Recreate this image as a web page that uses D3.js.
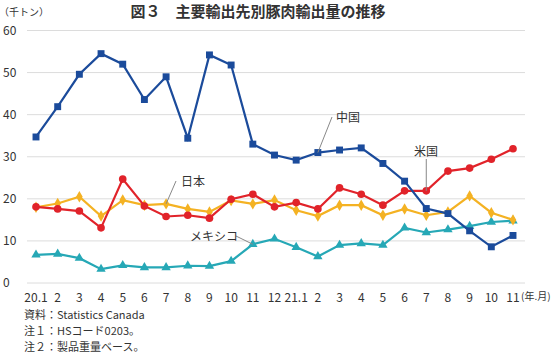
<!DOCTYPE html>
<html>
<head>
<meta charset="utf-8">
<script src="https://cdn.jsdelivr.net/npm/d3@7"></script>
<style>
  body { margin: 0; background: #fff; }
  text { font-family: "Noto Sans CJK JP", "Liberation Sans", sans-serif; }
</style>
</head>
<body>
<div id="drawing_region"></div>
<script>
// month labels (年.月)
const months = ["20.1","2","3","4","5","6","7","8","9","10","11","12",
                "21.1","2","3","4","5","6","7","8","9","10","11"];
const yTicks = [0, 10, 20, 30, 40, 50, 60];

// 千トン
const china  = [34.7, 41.9, 49.6, 54.5, 52.0, 43.6, 49.0, 34.4, 54.2, 51.8, 33.0, 30.4,
                29.2, 31.0, 31.6, 32.1, 28.4, 24.2, 17.7, 16.5, 12.4, 8.6, 11.3];
const usa    = [18.1, 17.6, 17.1, 13.1, 24.7, 18.3, 15.8, 16.1, 15.4, 19.9, 21.1, 18.1,
                19.1, 17.6, 22.6, 21.1, 18.5, 21.9, 21.9, 26.6, 27.3, 29.4, 31.9];
const japan  = [18.0, 18.9, 20.5, 15.9, 19.7, 18.5, 18.8, 17.6, 16.9, 19.6, 18.8, 19.7,
                17.3, 15.9, 18.5, 18.5, 16.1, 17.6, 16.1, 16.9, 20.7, 16.7, 15.0];
const mexico = [6.7, 6.9, 5.9, 3.3, 4.2, 3.7, 3.7, 4.1, 4.0, 5.2, 9.2, 10.5,
                8.5, 6.3, 9.0, 9.4, 9.0, 13.1, 12.0, 12.7, 13.5, 14.5, 14.8];

const series = [
  { name: "メキシコ", values: mexico, color: "#26a8b6", shape: d3.symbolTriangle, size: 38 },
  { name: "日本", values: japan, color: "#f4b223", shape: d3.symbolDiamond, size: 38 },
  { name: "米国", values: usa, color: "#e1232a", shape: d3.symbolCircle, size: 46 },
  { name: "中国", values: china, color: "#1b4b9b", shape: d3.symbolSquare, size: 48 }
];

const width = 558, height = 353;
const svg = d3.select("#drawing_region").append("svg")
  .attr("width", width).attr("height", height)
  .attr("viewBox", `0 0 ${width} ${height}`);

const x = d3.scalePoint().domain(d3.range(months.length)).range([36, 513]);
const y = d3.scaleLinear().domain([0, 60]).range([283, 30.5]);

// grid
svg.append("g").selectAll("line").data(yTicks).join("line")
  .attr("x1", 27).attr("x2", 525)
  .attr("y1", d => y(d)).attr("y2", d => y(d))
  .attr("stroke", "#dcdcdc").attr("stroke-width", 1);

// y labels
svg.append("g").selectAll("text").data(yTicks).join("text")
  .attr("x", 3).attr("y", d => y(d) + 4)
  .attr("font-size", 12).attr("fill", "#333")
  .text(d => d);

// x labels
svg.append("g").selectAll("text").data(months).join("text")
  .attr("x", (d, i) => x(i)).attr("y", 302)
  .attr("text-anchor", "middle")
  .attr("font-size", 12).attr("fill", "#333")
  .text(d => d);

svg.append("text").attr("x", 521).attr("y", 300)
  .attr("font-size", 10).attr("fill", "#333").text("(年.月)");

svg.append("text").attr("x", -1).attr("y", 16)
  .attr("font-size", 10).attr("fill", "#333").text("（千トン）");

svg.append("text").attr("x", 258).attr("y", 17)
  .attr("text-anchor", "middle")
  .attr("font-size", 15).attr("font-weight", 600).attr("fill", "#333")
  .text("図３　主要輸出先別豚肉輸出量の推移");

// lines
const line = d3.line().x((d, i) => x(i)).y(d => y(d));
series.forEach(s => {
  const g = svg.append("g");
  g.append("path").datum(s.values)
    .attr("d", line).attr("fill", "none")
    .attr("stroke", s.color).attr("stroke-width", 2.2);
  g.selectAll("path.m").data(s.values).join("path")
    .attr("class", "m")
    .attr("transform", (d, i) => `translate(${x(i)},${y(d)})`)
    .attr("d", d3.symbol().type(s.shape).size(s.size))
    .attr("fill", s.color);
});

// callout labels
const labels = [
  { text: "中国", idx: 13, v: china[13], lx: 332, ly: 117, tx: 336, ty: 122 },
  { text: "米国", idx: 18, v: usa[18], lx: x(18), ly: 159, tx: 414, ty: 156 },
  { text: "日本", idx: 6, v: japan[6], lx: 176, ly: 181, tx: 181, ty: 186 },
  { text: "メキシコ", idx: 10, v: mexico[10], lx: 236, ly: 236, tx: 190, ty: 241 }
];
labels.forEach(l => {
  svg.append("line")
    .attr("x1", l.lx).attr("y1", l.ly)
    .attr("x2", x(l.idx)).attr("y2", y(l.v))
    .attr("stroke", "#888").attr("stroke-width", 1);
  svg.append("text").attr("x", l.tx).attr("y", l.ty)
    .attr("font-size", 12).attr("fill", "#333").text(l.text);
});

// notes
const notes = ["資料：Statistics Canada", "注１：HSコード0203。", "注２：製品重量ベース。"];
svg.append("g").selectAll("text").data(notes).join("text")
  .attr("x", 24).attr("y", (d, i) => 319 + i * 16)
  .attr("font-size", 11).attr("fill", "#333")
  .text(d => d);
</script>
</body>
</html>
